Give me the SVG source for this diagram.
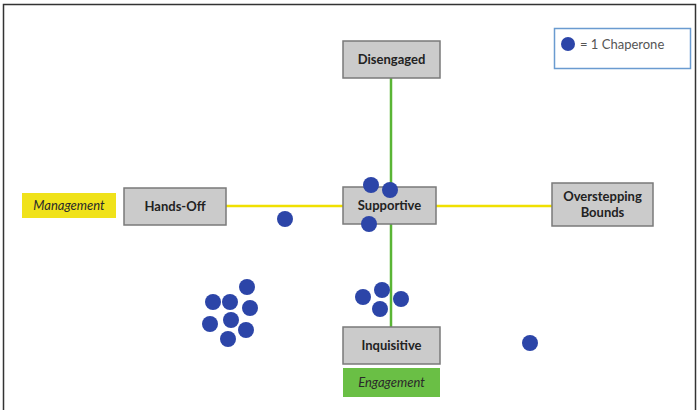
<svg xmlns="http://www.w3.org/2000/svg" width="700" height="410" viewBox="0 0 700 410">
<style>
.box{fill:#cbcbcb;stroke:#7a7a7a;stroke-width:1.5}
.lbl{font-family:Lato,"Open Sans",sans-serif;font-weight:bold;font-size:13px;fill:#222;text-anchor:middle}
.tag{font-family:Lato,"Open Sans",sans-serif;font-style:italic;font-size:13px;fill:#2a2a2a;text-anchor:middle}
.dot{fill:#2c45a8}
</style>
<rect x="0" y="0" width="700" height="410" fill="#fff"/>
<rect x="3.5" y="4.5" width="692" height="410" fill="none" stroke="#333" stroke-width="1.5"/>
<g id="connectors">
<line x1="226" y1="206" x2="552" y2="206" stroke="#f0e000" stroke-width="2.5"/>
<line x1="391" y1="78" x2="391" y2="327" stroke="#5ab535" stroke-width="2.5"/>
</g>
<g id="legend">
<rect x="554.5" y="28.5" width="136" height="40" fill="#fff" stroke="#6a9bd0" stroke-width="1.5"/>
<circle class="dot" cx="568" cy="44" r="7"/>
<text x="580" y="49" font-family="Lato,'Open Sans',sans-serif" font-size="13" fill="#555">= 1 Chaperone</text>
</g>
<g id="disengaged">
<rect class="box" x="343" y="41" width="97" height="37"/>
<text class="lbl" x="391.5" y="64">Disengaged</text>
</g>
<g id="management">
<rect x="22" y="193" width="94" height="25" fill="#f0e21a"/>
<text class="tag" x="69" y="210">Management</text>
</g>
<g id="hands-off">
<rect class="box" x="124" y="188" width="102" height="37"/>
<text class="lbl" x="175" y="211">Hands-Off</text>
</g>
<g id="supportive">
<rect class="box" x="343" y="187" width="93" height="37"/>
<text class="lbl" x="389.5" y="210">Supportive</text>
</g>
<g id="overstepping">
<rect class="box" x="552" y="183" width="101" height="43"/>
<text class="lbl" x="602.5" y="201">Overstepping</text>
<text class="lbl" x="602.5" y="217">Bounds</text>
</g>
<g id="inquisitive">
<rect class="box" x="343" y="327" width="97" height="37"/>
<text class="lbl" x="391.5" y="350">Inquisitive</text>
</g>
<g id="engagement">
<rect x="343" y="368" width="97" height="29" fill="#6abf45"/>
<text class="tag" x="391.5" y="387" fill="#1e3a10">Engagement</text>
</g>
<g id="dots">
<circle class="dot" cx="371" cy="185" r="8"/>
<circle class="dot" cx="390" cy="190" r="8"/>
<circle class="dot" cx="369" cy="224" r="8"/>
<circle class="dot" cx="285" cy="219" r="8"/>
<circle class="dot" cx="247" cy="287" r="8"/>
<circle class="dot" cx="213" cy="302" r="8"/>
<circle class="dot" cx="230" cy="302" r="8"/>
<circle class="dot" cx="250" cy="308" r="8"/>
<circle class="dot" cx="210" cy="324" r="8"/>
<circle class="dot" cx="231" cy="320" r="8"/>
<circle class="dot" cx="246" cy="330" r="8"/>
<circle class="dot" cx="228" cy="339" r="8"/>
<circle class="dot" cx="363" cy="297" r="8"/>
<circle class="dot" cx="382" cy="290" r="8"/>
<circle class="dot" cx="401" cy="299" r="8"/>
<circle class="dot" cx="380" cy="309" r="8"/>
<circle class="dot" cx="530" cy="343" r="8"/>
</g>
</svg>
